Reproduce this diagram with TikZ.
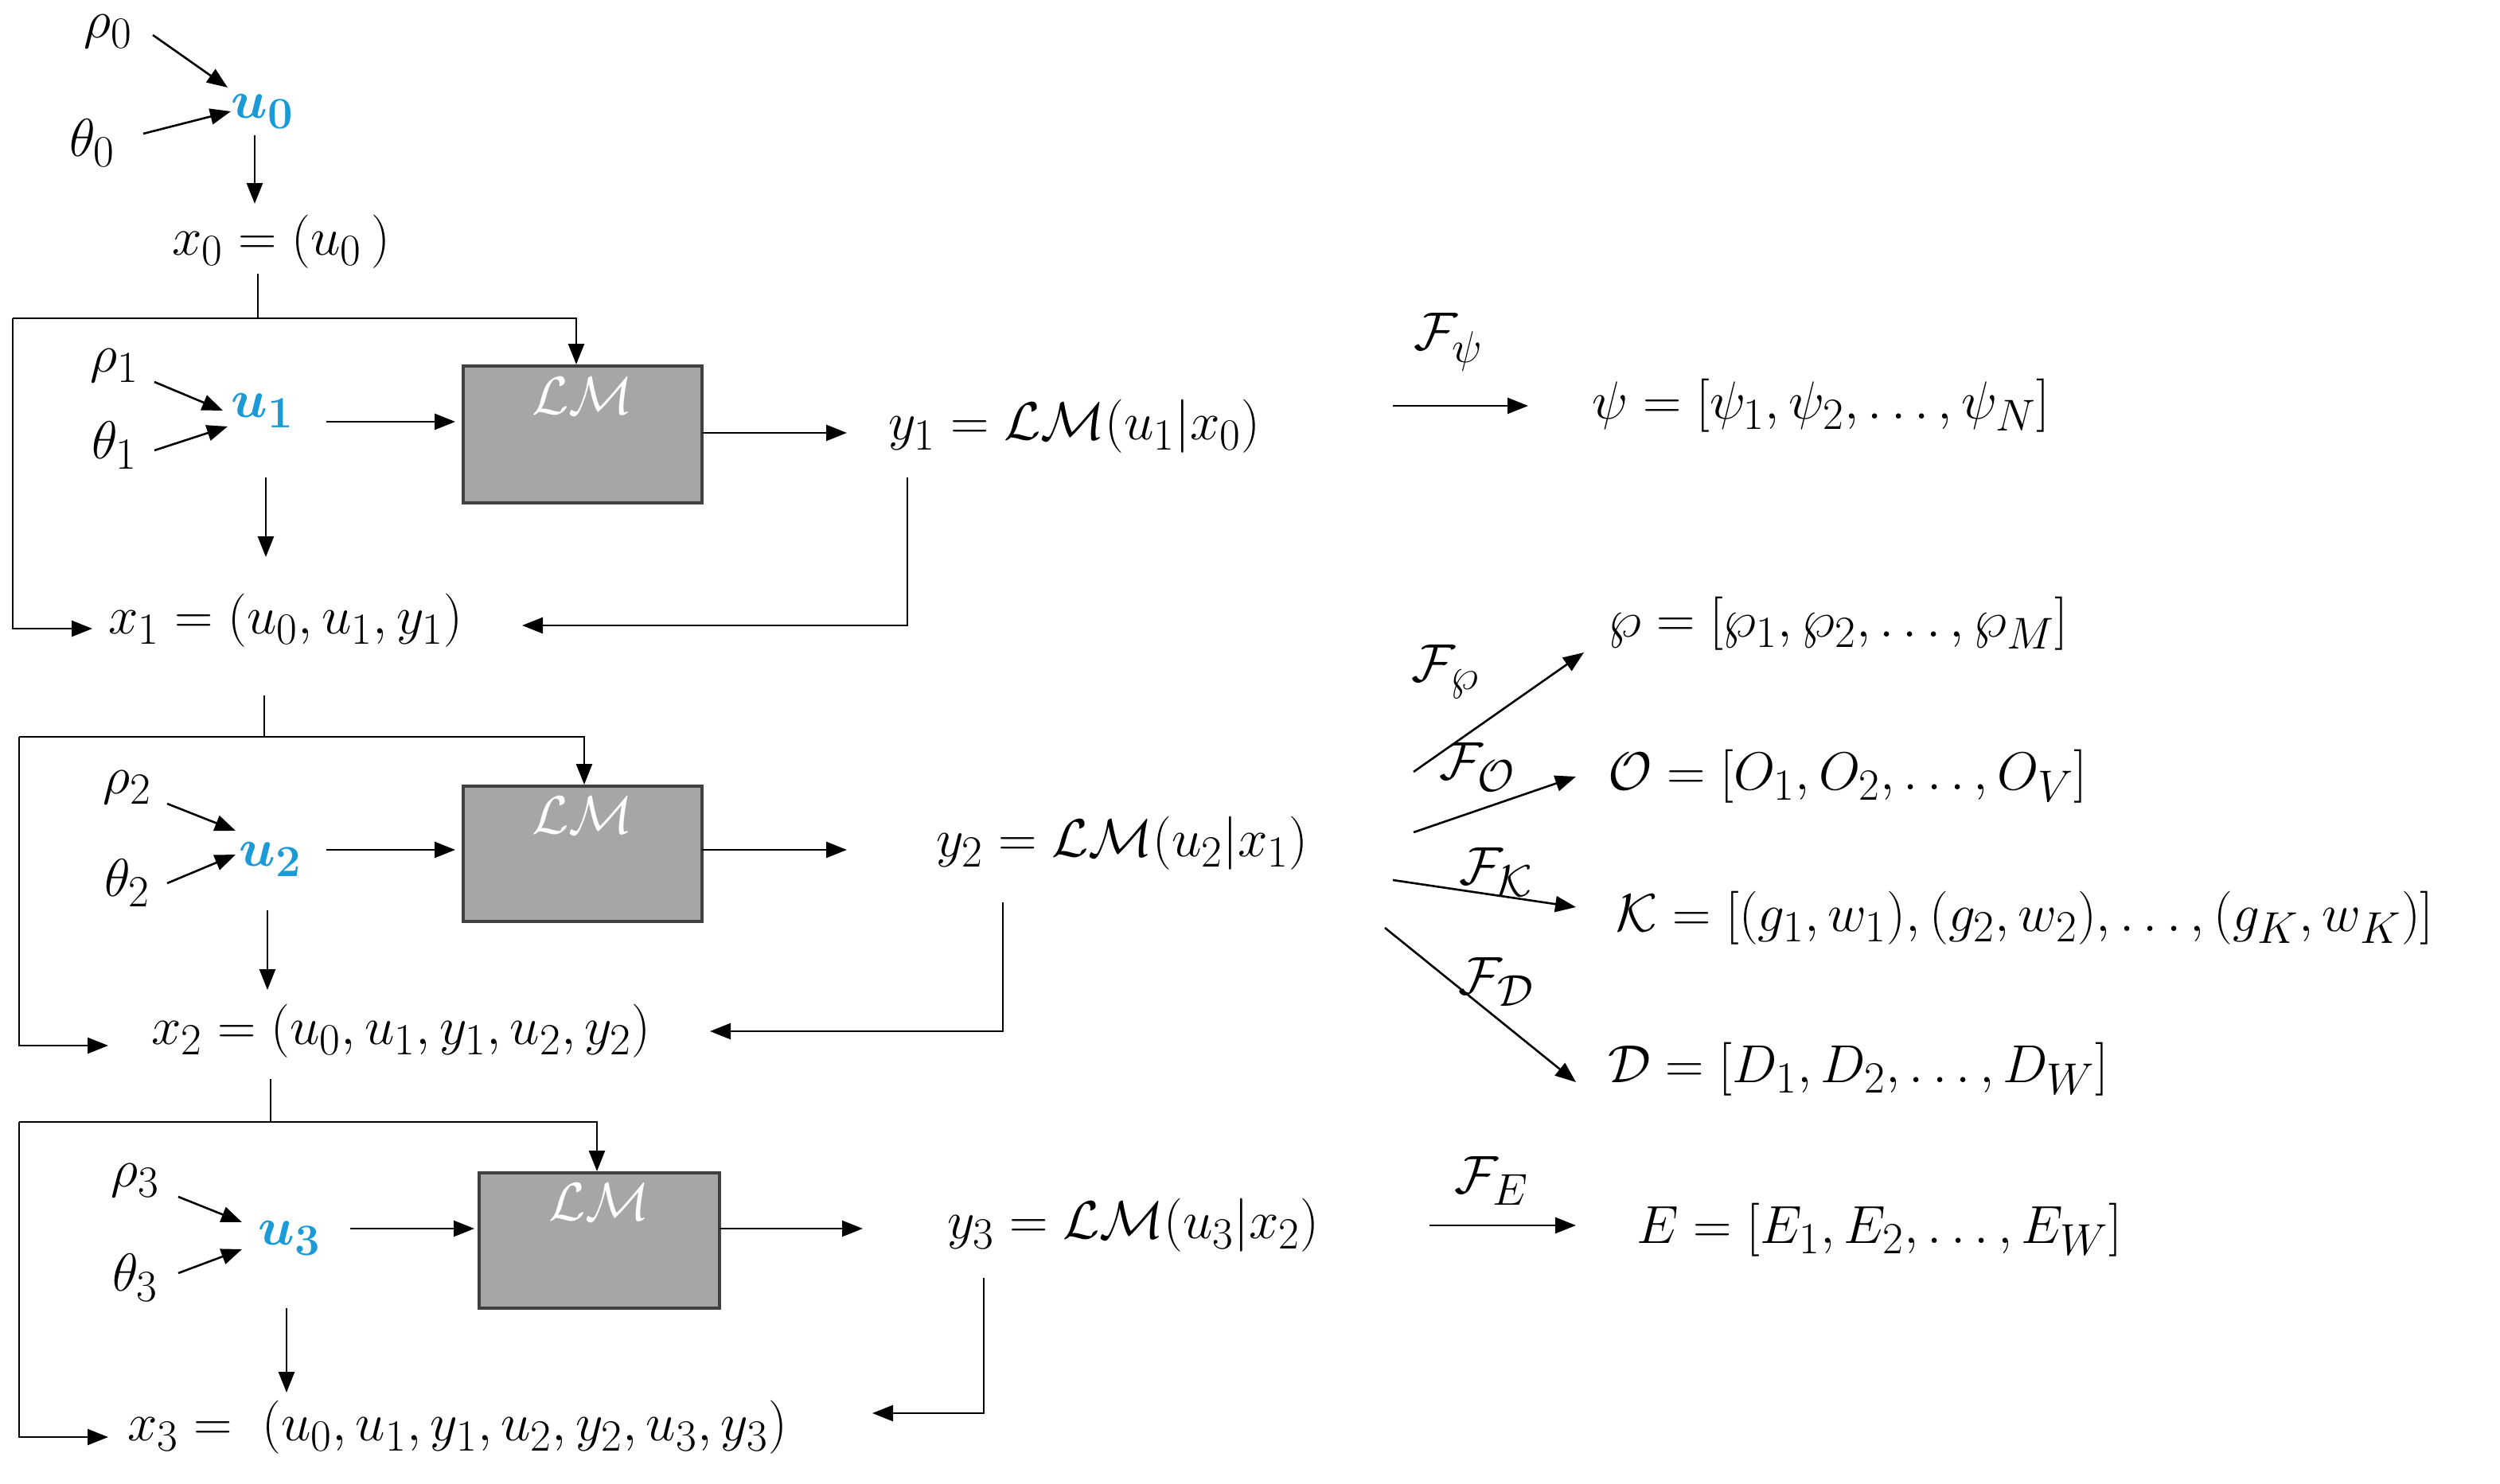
\documentclass[tikz,border=0pt]{standalone}
\usepackage{amsmath,amssymb}
\usetikzlibrary{arrows.meta}
\definecolor{ublue}{HTML}{1A9AD6}
\definecolor{boxfill}{HTML}{A6A6A6}
\definecolor{boxdraw}{HTML}{404040}
\begin{document}
\begin{tikzpicture}[x=2pt,y=-2pt,
  every node/.style={font=\fontsize{24.88}{30}\selectfont, inner sep=0pt, scale=2.7},
  arr/.style={draw, line width=2.6pt, -{Triangle[length=26pt,width=20pt]}},
  ln/.style={draw, line width=2.6pt},
  lmbox/.style={draw=boxdraw, fill=boxfill, line width=4pt},
  u/.style={text=ublue}]
\useasboundingbox (0,0) rectangle (1570.5,932.5);
% ---------- row 0
\node (r0) at (68,20) {$\rho_0$};
\node (t0) at (58,90) {$\theta_0$};
\node[u] (u0) at (165,70) {$\boldsymbol{u}_{\mathbf{0}}$};
\draw[arr] (96,22) -- (143,55);
\draw[arr] (90,84) -- (145,70);
\draw[arr] (160,85) -- (160,128);
\node[anchor=west] (x0) at (108,152) {$x_0=(u_0\,)$};
% ---------- row 1
\draw[lmbox] (291,230) rectangle (441,316) node[pos=.5,yshift=18pt,text=white] (lm1) {$\mathcal{LM}$};
\node (r1) at (72,230) {$\rho_1$};
\node (t1) at (72,280) {$\theta_1$};
\node[u] (u1) at (165,258) {$\boldsymbol{u}_{\mathbf{1}}$};
\draw[arr] (97,240) -- (140,258);
\draw[arr] (97,283) -- (143,268);
\draw[ln] (162,172) -- (162,200);
\draw[arr] (8,200) -- (362,200) -- (362,229);
\draw[arr] (8,200) -- (8,395) -- (58,395);
\draw[arr] (205,265) -- (286,265);
\draw[arr] (167,300) -- (167,350);
\draw[arr] (441,272) -- (532,272);
\node[anchor=west] (y1) at (558,268) {$y_1=\mathcal{LM}(u_1|x_0)$};
\draw[arr] (570,300) -- (570,393) -- (328,393);
\node[anchor=west] (x1) at (68,390) {$x_1=(u_0,u_1,y_1)$};
\draw[arr] (875,255) -- (960,255);
\node (fpsi) at (910,215) {$\mathcal{F}_\psi$};
\node[anchor=west] (psi) at (1000,255) {$\psi=[\psi_1,\psi_2,\dots,\psi_N]$};
% ---------- row 2
\draw[lmbox] (291,494) rectangle (441,579) node[pos=.5,yshift=18pt,text=white] (lm2) {$\mathcal{LM}$};
\node (r2) at (80,495) {$\rho_2$};
\node (t2) at (80,555) {$\theta_2$};
\node[u] (u2) at (170,540) {$\boldsymbol{u}_{\mathbf{2}}$};
\draw[arr] (105,505) -- (148,522);
\draw[arr] (105,555) -- (148,537);
\draw[ln] (166,437) -- (166,463);
\draw[arr] (12,463) -- (367,463) -- (367,493);
\draw[arr] (12,463) -- (12,657) -- (68,657);
\draw[arr] (205,534) -- (286,534);
\draw[arr] (168,572) -- (168,622);
\draw[arr] (441,534) -- (532,534);
\node[anchor=west] (y2) at (588,530) {$y_2=\mathcal{LM}(u_2|x_1)$};
\draw[arr] (630,567) -- (630,648) -- (446,648);
\node[anchor=west] (x2) at (95,648) {$x_2=(u_0,u_1,y_1,u_2,y_2)$};
\draw[arr] (888,485) -- (995,410);
\node (fp) at (908,422) {$\mathcal{F}_\wp$};
\draw[arr] (888,523) -- (990,488);
\node (fo) at (928,482) {$\mathcal{F}_\mathcal{O}$};
\draw[arr] (875,553) -- (990,570);
\node (fk) at (940,548) {$\mathcal{F}_\mathcal{K}$};
\draw[arr] (870,583) -- (990,680);
\node (fd) at (940,617) {$\mathcal{F}_\mathcal{D}$};
\node[anchor=west] (P) at (1010,392) {$\wp=[\wp_1,\wp_2,\dots,\wp_M]$};
\node[anchor=west] (O) at (1010,488) {$\mathcal{O}=[O_1,O_2,\dots,O_V]$};
\node[anchor=west] (K) at (1015,577) {$\mathcal{K}=[(g_1,w_1),(g_2,w_2),\dots,(g_K,w_K)]$};
\node[anchor=west] (D) at (1010,672) {$\mathcal{D}=[D_1,D_2,\dots,D_W]$};
% ---------- row 3
\draw[lmbox] (301,737) rectangle (452,822) node[pos=.5,yshift=18pt,text=white] (lm3) {$\mathcal{LM}$};
\node (r3) at (85,742) {$\rho_3$};
\node (t3) at (85,803) {$\theta_3$};
\node[u] (u3) at (182,778) {$\boldsymbol{u}_{\mathbf{3}}$};
\draw[arr] (112,752) -- (152,768);
\draw[arr] (112,800) -- (152,785);
\draw[ln] (170,678) -- (170,705);
\draw[arr] (12,705) -- (375,705) -- (375,736);
\draw[arr] (12,705) -- (12,903) -- (68,903);
\draw[arr] (220,772) -- (298,772);
\draw[arr] (180,822) -- (180,875);
\draw[arr] (452,772) -- (542,772);
\node[anchor=west] (y3) at (595,770) {$y_3=\mathcal{LM}(u_3|x_2)$};
\draw[arr] (618,803) -- (618,888) -- (548,888);
\node[anchor=west] (x3) at (80,897) {$x_3=\;(u_0,u_1,y_1,u_2,y_2,u_3,y_3)$};
\draw[arr] (898,770) -- (990,770);
\node (fe) at (937,742) {$\mathcal{F}_E$};
\node[anchor=west] (E) at (1028,773) {$E=[E_1,E_2,\dots,E_W]$};
\end{tikzpicture}
\end{document}
